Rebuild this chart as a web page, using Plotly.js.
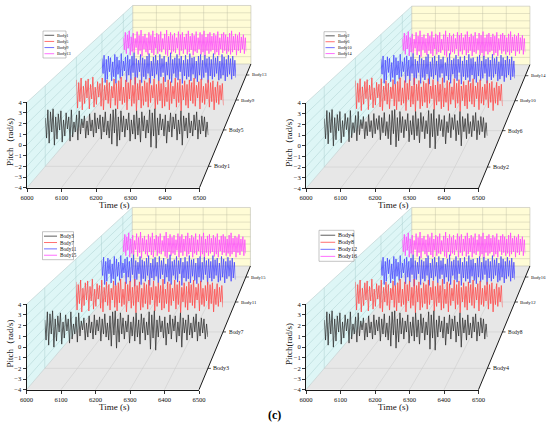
<!DOCTYPE html>
<html><head><meta charset="utf-8">
<script src="https://cdn.plot.ly/plotly-3.0.1.min.js"></script>
<style>html,body{margin:0;padding:0;background:#fff}#chart{width:550px;height:429px}</style>
</head><body><div id="chart"></div>
<script>
// ---------------- data ----------------
const timeStart = 6000, timeEnd = 6500;
const timeTicks = [6000, 6100, 6200, 6300, 6400, 6500];
const pitchMin = -4, pitchMax = 4;
const panelBodies = [
  ["Body1", "Body5", "Body9", "Body13"],
  ["Body2", "Body6", "Body10", "Body14"],
  ["Body3", "Body7", "Body11", "Body15"],
  ["Body4", "Body8", "Body12", "Body16"]
];
const pitchTitles = ["Pitch\uFF08rad/s)", "Pitch\uFF08rad/s)", "Pitch\uFF08rad/s)", "Pitch(rad/s)"];
const timeTitle = "Time (s)";
const figureLabel = "(c)";

const row1Pitch = [0.8,-1.2,1.6,-1.7,1.4,-0.6,1.7,-1.9,0.9,-1.3,
  1.2,-0.4,1.5,-1.6,0.6,-1.0,1.3,-0.3,0.9,-1.5,
  1.6,-1.1,0.4,-0.6,1.1,-1.4,1.5,-0.8,0.7,-0.2,
  1.0,-1.2,0.5,-0.9,1.2,-0.5,0.6,-1.1,1.3,-0.7,
  0.8,-0.3,1.1,-1.3,0.9,-0.6,1.4,-0.9,0.5,-1.2,
  1.2,-1.8,1.6,-0.7,1.7,-2.0,0.9,-1.4,1.5,-0.6,
  1.0,-1.1,0.7,-0.4,1.3,-1.5,0.6,-0.8,1.1,-1.3,
  1.5,-0.9,0.8,-1.6,1.4,-0.5,1.0,-1.2,0.6,-0.7,
  1.6,-2.1,1.3,-1.0,1.7,-2.2,0.8,-0.9,1.2,-0.4,
  0.7,-1.0,1.1,-1.7,0.5,-0.6,1.3,-1.1,0.9,-0.3,
  1.2,-1.4,0.6,-0.8,1.5,-1.9,1.0,-0.5,0.8,-1.2,
  1.3,-0.7,0.5,-1.0,1.1,-0.4,1.4,-1.3,0.6,-0.8,
  1.0,-0.5,0.9,-1.1,0.4,-0.9];
const row2Pitch = [1.5,-1.6,1.2,-0.9,1.7,-1.8,0.8,-1.1,1.4,-0.5,
  1.6,-1.7,1.0,-0.6,1.8,-1.5,0.7,-1.2,1.3,-0.4,
  1.1,-1.4,1.7,-1.8,0.9,-0.7,1.5,-1.1,1.2,-1.6,
  0.8,-0.5,1.6,-1.3,1.1,-1.7,1.4,-0.8,1.8,-1.2,
  0.7,-1.0,1.5,-1.8,1.2,-0.6,1.6,-1.4,0.9,-1.1,
  1.8,-1.9,1.1,-0.7,1.5,-1.6,0.8,-1.3,1.4,-0.9,
  1.2,-1.5,1.7,-1.0,0.9,-0.5,1.6,-1.7,1.0,-1.2,
  1.4,-0.8,1.1,-1.6,1.8,-1.4,0.7,-0.9,1.5,-1.8,
  1.3,-1.1,0.8,-0.6,1.7,-1.5,1.2,-1.0,1.6,-1.9,
  0.9,-0.7,1.4,-1.3,1.0,-1.6,1.5,-0.8,1.2,-1.1,
  1.7,-1.4,0.9,-0.5,1.3,-1.7,1.6,-1.0,0.8,-1.2,
  1.1,-0.6,1.5,-1.5,1.2,-0.9,1.4,-1.8,0.7,-1.0,
  1.3,-1.2,0.9,-0.7,1.1,-1.3];
const row3Pitch = [1.0,-0.8,1.4,-1.9,0.9,-1.5,1.3,-0.6,1.1,-1.7,
  0.6,-1.2,1.5,-2.0,1.2,-0.9,0.8,-1.4,1.6,-1.1,
  0.7,-0.5,1.2,-1.8,1.4,-1.0,0.9,-1.6,1.3,-0.7,
  1.7,-2.1,1.0,-1.3,0.8,-0.6,1.5,-1.9,1.1,-1.2,
  0.9,-1.5,1.3,-0.8,1.6,-2.0,0.7,-1.1,1.2,-1.4,
  1.4,-0.9,0.8,-1.7,1.5,-1.2,1.0,-0.7,1.3,-1.8,
  0.6,-1.0,1.2,-1.5,1.7,-1.9,0.9,-0.8,1.1,-1.3,
  1.5,-1.6,1.0,-0.6,1.3,-2.0,0.8,-1.1,1.4,-1.5,
  0.9,-1.2,1.6,-1.7,1.1,-0.9,1.2,-1.4,0.7,-1.8,
  1.3,-1.0,1.5,-1.6,0.8,-1.3,1.4,-0.7,1.0,-1.9,
  1.2,-1.1,0.9,-1.5,1.6,-1.2,1.1,-0.8,1.3,-1.6,
  0.7,-1.4,1.5,-1.0,1.2,-1.7,0.9,-1.2,1.4,-0.9,
  1.0,-1.5,1.3,-1.1,0.8,-1.3];
const row4Pitch = [0.9,-0.7,1.6,-1.2,1.3,-0.5,1.8,-1.4,1.0,-0.9,
  1.5,-1.1,0.8,-0.4,1.7,-1.3,1.2,-0.8,1.9,-1.5,
  1.1,-0.6,1.4,-1.0,0.9,-1.3,1.6,-0.7,1.2,-1.1,
  1.8,-1.4,1.0,-0.5,1.5,-1.2,1.3,-0.9,1.7,-1.0,
  0.8,-0.6,1.4,-1.3,1.9,-1.5,1.1,-0.7,1.6,-1.2,
  1.2,-0.9,1.5,-1.1,0.9,-0.5,1.7,-1.4,1.3,-0.8,
  1.6,-1.2,1.0,-0.6,1.4,-1.3,1.8,-1.0,1.1,-0.7,
  1.5,-1.4,1.2,-0.9,1.7,-1.1,0.9,-0.6,1.6,-1.3,
  1.3,-1.0,1.8,-1.5,1.0,-0.8,1.4,-1.2,1.6,-0.9,
  1.1,-0.7,1.5,-1.3,1.2,-1.0,1.7,-1.4,0.9,-0.6,
  1.4,-1.1,1.6,-0.8,1.3,-1.2,1.0,-0.9,1.5,-1.3,
  1.8,-1.0,1.1,-0.7,1.4,-1.4,1.2,-0.8,1.6,-1.1,
  1.0,-0.6,1.3,-1.2,0.9,-0.9];
const rowsPitch = [row1Pitch, row2Pitch, row3Pitch, row4Pitch];
const seriesColors = ["#333333", "#ff4a4a", "#4a4aff", "#ff4aff"];

// ---------------- geometry (styles / positions) ----------------
const FW = 550, FH = 429;
const px = x => x / FW, py = y => 1 - y / FH;
const W = 172.5, H = 85.4, VPDX = 335.7, VPDY = -307.3, A = 0.115, DMAX = 4;
const depthPos = [0.5, 1.5, 2.5, 3.5];
const panels = [
  {L: 27,   T: 102.3, leg: {x: 16, y: -71.3, w: 23, h: 27, f: 4.3}},
  {L: 306,  T: 103,   leg: {x: 18, y: -71.3, w: 22, h: 26, f: 4.3}},
  {L: 26.5, T: 304.3, leg: {x: 16, y: -72.6, w: 31, h: 28, f: 5.2}},
  {L: 306,  T: 304.3, leg: {x: 13, y: -74,   w: 35, h: 31, f: 6.0}}
];
const FONT = "Liberation Serif, Times New Roman, serif";

function scaleAt(d) { return 1 / (1 + A * d); }
function proj(P, u, v, d) {
  const s = scaleAt(d);
  const fx = P.L + u * W, fy = P.T + H - v * H;
  const vx = P.L + VPDX, vy = P.T + VPDY;
  return [vx + s * (fx - vx), vy + s * (fy - vy)];
}
const uOf = t => (t - timeStart) / (timeEnd - timeStart);
const vOf = p => (p - pitchMin) / (pitchMax - pitchMin);
function pathOf(pts) {
  return pts.map((p, i) => (i ? "L" : "M") + px(p[0]).toFixed(5) + "," + py(p[1]).toFixed(5)).join(" ") + " Z";
}
function seg(a, b, color, width, layer) {
  return {type: "line", xref: "paper", yref: "paper", x0: px(a[0]), y0: py(a[1]), x1: px(b[0]), y1: py(b[1]),
          line: {color: color, width: width}, layer: layer || "below"};
}

const data = [], shapes = [], annotations = [];
const layout = {
  width: 550, height: 429, margin: {l: 0, r: 0, t: 0, b: 0},
  paper_bgcolor: "#ffffff", plot_bgcolor: "rgba(0,0,0,0)",
  showlegend: false, font: {family: FONT, color: "#000"}
};

let axisN = 0;
panels.forEach((P, pi) => {
  // walls
  shapes.push({type: "path", xref: "paper", yref: "paper", layer: "below",
    path: pathOf([proj(P,0,0,0), proj(P,1,0,0), proj(P,1,0,DMAX), proj(P,0,0,DMAX)]),
    fillcolor: "rgb(231,231,231)", line: {width: 0}});
  shapes.push({type: "path", xref: "paper", yref: "paper", layer: "below",
    path: pathOf([proj(P,0,0,0), proj(P,0,1,0), proj(P,0,1,DMAX), proj(P,0,0,DMAX)]),
    fillcolor: "rgb(222,246,246)", line: {width: 0}});
  shapes.push({type: "path", xref: "paper", yref: "paper", layer: "below",
    path: pathOf([proj(P,0,0,DMAX), proj(P,1,0,DMAX), proj(P,1,1,DMAX), proj(P,0,1,DMAX)]),
    fillcolor: "rgb(255,252,214)", line: {color: "rgb(190,190,180)", width: 0.6}});
  // grid lines
  const gBack = "rgba(185,185,160,0.8)", gLeft = "rgba(160,200,200,0.8)", gFloor = "rgba(200,200,200,1)";
  timeTicks.slice(1, -1).forEach(t => {
    const u = uOf(t);
    shapes.push(seg(proj(P,u,0,DMAX), proj(P,u,1,DMAX), gBack, 0.5));
    shapes.push(seg(proj(P,u,0,0), proj(P,u,0,DMAX), gFloor, 0.5));
  });
  for (let p = pitchMin + 1; p < pitchMax; p++) {
    const v = vOf(p);
    shapes.push(seg(proj(P,0,v,DMAX), proj(P,1,v,DMAX), gBack, 0.5));
    shapes.push(seg(proj(P,0,v,0), proj(P,0,v,DMAX), gLeft, 0.5));
  }
  depthPos.forEach(d => {
    shapes.push(seg(proj(P,0,0,d), proj(P,0,1,d), gLeft, 0.5));
    shapes.push(seg(proj(P,0,0,d), proj(P,1,0,d), gFloor, 0.5));
  });
  // box edges
  shapes.push(seg(proj(P,0,1,0), proj(P,0,1,DMAX), "rgb(185,205,205)", 0.6));
  shapes.push(seg(proj(P,0,0,0), proj(P,0,0,DMAX), "rgb(190,200,200)", 0.6));
  // depth axis
  shapes.push(seg(proj(P,1,0,0), proj(P,1,0,DMAX), "#000", 0.9, "above"));
  depthPos.forEach((d, k) => {
    const q = proj(P,1,0,d);
    shapes.push(seg(q, [q[0] + 3, q[1]], "#000", 0.7, "above"));
    annotations.push({xref: "paper", yref: "paper", x: px(q[0] + 3.5), y: py(q[1]), xanchor: "left", yanchor: "middle",
      text: panelBodies[pi][k], showarrow: false, font: {size: 6.4 * scaleAt(d), family: FONT, color: "#111"}});
  });

  // front axes (ticks & labels)
  axisN++;
  const fa = axisN;
  const xk = fa === 1 ? "xaxis" : "xaxis" + fa, yk = fa === 1 ? "yaxis" : "yaxis" + fa;
  const xr = fa === 1 ? "x" : "x" + fa, yr = fa === 1 ? "y" : "y" + fa;
  layout[xk] = {domain: [px(P.L), px(P.L + W)], range: [timeStart, timeEnd], anchor: yr,
    showline: true, linecolor: "#000", linewidth: 0.9, ticks: "outside", ticklen: 3, tickwidth: 0.8, tickcolor: "#000",
    tickvals: timeTicks, showgrid: false, zeroline: false, fixedrange: true,
    tickfont: {size: 6.6, family: FONT, color: "#111"}};
  layout[yk] = {domain: [py(P.T + H), py(P.T)], range: [pitchMin, pitchMax], anchor: xr,
    showline: true, linecolor: "#000", linewidth: 0.9, ticks: "outside", ticklen: 3, tickwidth: 0.8, tickcolor: "#000",
    dtick: 1, showgrid: false, zeroline: false, fixedrange: true,
    tickfont: {size: 6.6, family: FONT, color: "#111"}};
  data.push({type: "scatter", mode: "lines", x: [], y: [], xaxis: xr, yaxis: yr, hoverinfo: "skip"});

  // axis titles
  annotations.push({xref: "paper", yref: "paper", x: px(P.L + 87), y: py(P.T + H + 17), xanchor: "center", yanchor: "middle",
    text: timeTitle, showarrow: false, font: {size: 9, family: FONT, color: "#111"}});
  annotations.push({xref: "paper", yref: "paper", x: px(P.L - 17), y: py(P.T + H / 2 - 3), xanchor: "center", yanchor: "middle",
    text: pitchTitles[pi], textangle: -90, showarrow: false, font: {size: 9, family: FONT, color: "#111"}});

  // series, back to front
  for (let k = 3; k >= 0; k--) {
    axisN++;
    const n = axisN, d = depthPos[k];
    const tl = proj(P, 0, 1, d), br = proj(P, 1, 0, d);
    layout["xaxis" + n] = {domain: [px(tl[0]), px(br[0])], range: [timeStart, timeEnd], anchor: "y" + n, visible: false, fixedrange: true};
    layout["yaxis" + n] = {domain: [py(br[1]), py(tl[1])], range: [pitchMin, pitchMax], anchor: "x" + n, visible: false, fixedrange: true};
    const ys = rowsPitch[k];
    data.push({type: "scatter", mode: "lines", y: ys, x0: timeStart, dx: (timeEnd - timeStart) / (ys.length - 1),
      xaxis: "x" + n, yaxis: "y" + n, line: {color: seriesColors[k], width: 0.8}, hoverinfo: "skip"});
  }

  // legend box
  const Lg = P.leg;
  const bx = P.L + Lg.x, by = P.T + Lg.y;
  shapes.push({type: "rect", xref: "paper", yref: "paper", layer: "above",
    x0: px(bx), x1: px(bx + Lg.w), y0: py(by), y1: py(by + Lg.h),
    fillcolor: "#ffffff", line: {color: "#888", width: 0.5}});
  const rowH = Lg.h / 4.4;
  const lineLen = Lg.w * 0.42;
  for (let k = 0; k < 4; k++) {
    const yy = by + rowH * (0.7 + k);
    shapes.push({type: "line", xref: "paper", yref: "paper", layer: "above",
      x0: px(bx + 1.5), x1: px(bx + 1.5 + lineLen), y0: py(yy), y1: py(yy),
      line: {color: seriesColors[k], width: 0.8}});
    annotations.push({xref: "paper", yref: "paper", x: px(bx + 2.5 + lineLen), y: py(yy), xanchor: "left", yanchor: "middle",
      text: panelBodies[pi][k], showarrow: false, font: {size: Lg.f, family: FONT, color: "#111"}});
  }
});

annotations.push({xref: "paper", yref: "paper", x: px(274), y: py(415), xanchor: "center", yanchor: "middle",
  text: "<b>" + figureLabel + "</b>", showarrow: false, font: {size: 12, family: FONT, color: "#000"}});

layout.shapes = shapes;
layout.annotations = annotations;
Plotly.newPlot("chart", data, layout, {staticPlot: true, displayModeBar: false});
</script>
</body></html>
